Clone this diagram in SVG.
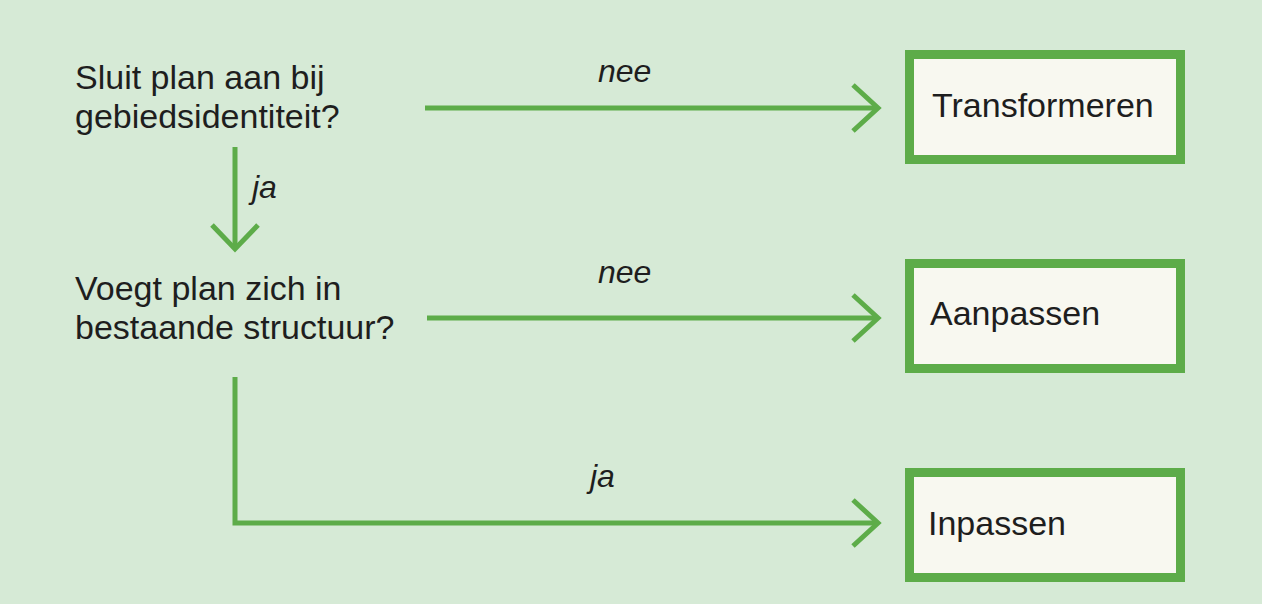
<svg xmlns="http://www.w3.org/2000/svg" width="1262" height="604" viewBox="0 0 1262 604">
<style>
.bg{fill:#d6ead6}
.box{fill:#f8f8f0;stroke:#5dac49;stroke-width:9}
.t{font-family:"Liberation Sans",Arial,sans-serif;font-size:34px;fill:#1e1e1e}
.lbl{font-family:"Liberation Sans",Arial,sans-serif;font-size:32px;font-style:italic;fill:#1e1e1e}
.c{fill:none;stroke:#5dac49;stroke-width:5;stroke-linejoin:miter}
</style>
<rect class="bg" x="0" y="0" width="1262" height="604"/>
<g id="q1">
<text class="t" x="75" y="89">Sluit plan aan bij</text>
<text class="t" x="75" y="128">gebiedsidentiteit?</text>
</g>
<g id="q2">
<text class="t" x="75" y="300">Voegt plan zich in</text>
<text class="t" x="75" y="339">bestaande structuur?</text>
</g>
<g id="transformeren">
<rect class="box" x="909.5" y="54.5" width="271" height="105"/>
<text class="t" x="932" y="117">Transformeren</text>
</g>
<g id="aanpassen">
<rect class="box" x="909.5" y="263.5" width="271" height="105"/>
<text class="t" x="930" y="325">Aanpassen</text>
</g>
<g id="inpassen">
<rect class="box" x="909.5" y="472.5" width="271" height="105"/>
<text class="t" x="928" y="535">Inpassen</text>
</g>
<g id="connectors">
<path class="c" d="M425 108H877"/>
<path class="c" d="M853 85L878 108L853 131"/>
<path class="c" d="M427 318H877"/>
<path class="c" d="M853 295L878 318L853 341"/>
<path class="c" d="M235 377V523H877"/>
<path class="c" d="M853 500L878 523L853 546"/>
<path class="c" d="M235 147V248"/>
<path class="c" d="M212 225L235 249L258 225"/>
<text class="lbl" x="598" y="82">nee</text>
<text class="lbl" x="598" y="283">nee</text>
<text class="lbl" x="590" y="487">ja</text>
<text class="lbl" x="252" y="198">ja</text>
</g>
</svg>
